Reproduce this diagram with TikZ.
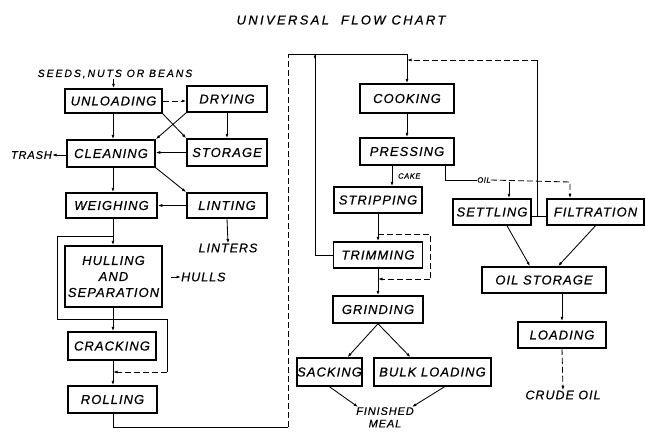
\documentclass[tikz,border=0pt]{standalone}
\usepackage{fontspec}
\setmainfont{Liberation Sans}
\newfontfamily\hand[LetterSpace=8,FakeBold=0.6]{Liberation Sans}
\newfontfamily\handwide[LetterSpace=18,FakeBold=0.6]{Liberation Sans}
\usetikzlibrary{arrows.meta}
\begin{document}
\begin{tikzpicture}[x=1pt,y=-1pt,
 box/.style={draw, line width=1.5pt, inner sep=0pt, font=\hand\itshape\fontsize{13}{16}\selectfont, align=center},
 lbl/.style={inner sep=0pt, font=\hand\itshape\fontsize{12.5}{14}\selectfont},
 tiny/.style={inner sep=0pt, font=\hand\itshape\fontsize{7.5}{8}\selectfont},
 con/.style={line width=0.85pt},
 arr/.style={con, -{Latex[length=4.5pt,width=3pt]}},
 dsh/.style={dash pattern=on 6pt off 3pt},
]
\useasboundingbox (0,0) rectangle (646,432);

% title
\node[inner sep=0pt, font=\handwide\itshape\fontsize{13}{15}\selectfont] (title) at (341,20) {UNIVERSAL\hspace{6pt} FLOW CHART};

% left column boxes
\node[box, minimum width=97pt, minimum height=24pt] (unl) at (113.5,101) {UNLOADING};
\node[box, minimum width=80pt, minimum height=26pt] (dry) at (227,99) {DRYING};
\node[box, minimum width=88pt, minimum height=27pt] (cln) at (111,153.5) {CLEANING};
\node[box, minimum width=80pt, minimum height=27pt] (stor) at (227,152.5) {STORAGE};
\node[box, minimum width=91pt, minimum height=25pt] (wgh) at (111.5,205.5) {WEIGHING};
\node[box, minimum width=80pt, minimum height=25pt] (lint) at (227,205.5) {LINTING};
\node[box, minimum width=97pt, minimum height=61pt] (hull) at (113.5,276.5) {HULLING\\AND\\SEPARATION};
\node[box, minimum width=88pt, minimum height=28pt] (crk) at (112,346) {CRACKING};
\node[box, minimum width=89pt, minimum height=27pt] (rol) at (112.5,399.5) {ROLLING};

% middle column boxes
\node[box, minimum width=94pt, minimum height=29pt] (cook) at (407,98.5) {COOKING};
\node[box, minimum width=94pt, minimum height=27pt] (press) at (407,151.5) {PRESSING};
\node[box, minimum width=88pt, minimum height=26pt] (strip) at (378,200) {STRIPPING};
\node[box, minimum width=89pt, minimum height=26pt] (trim) at (378,255) {TRIMMING};
\node[box, minimum width=90pt, minimum height=27pt] (grind) at (378,309.5) {GRINDING};
\node[box, minimum width=63pt, minimum height=28pt] (sack) at (329.5,372) {SACKING};
\node[box, minimum width=117pt, minimum height=28pt] (bulk) at (432.5,372) {BULK LOADING};

% right column boxes
\node[box, minimum width=78pt, minimum height=26pt] (settl) at (492,212) {SETTLING};
\node[box, minimum width=97pt, minimum height=26pt] (filt) at (595.5,212) {FILTRATION};
\node[box, minimum width=124pt, minimum height=26pt] (ostor) at (544,280) {OIL STORAGE};
\node[box, minimum width=88pt, minimum height=26pt] (load) at (562,335) {LOADING};

% labels
\node[lbl, font=\handwide\itshape\fontsize{10.5}{12}\selectfont] (seeds) at (115,74) {SEEDS,NUTS OR BEANS};
\node[lbl, anchor=east, font=\hand\itshape\fontsize{11}{12}\selectfont] (trash) at (52,155) {TRASH};
\node[lbl] (linters) at (228,248) {LINTERS};
\node[lbl, anchor=west] (hulls) at (181,277) {HULLS};
\node[tiny, anchor=west] (cake) at (398,176) {CAKE};
\node[tiny] (oil) at (484,180) {OIL};
\node[lbl] (crude) at (563,395) {CRUDE OIL};
\node[lbl, align=center, anchor=north, font=\hand\itshape\fontsize{11}{12.5}\selectfont] (fin) at (385,407) {FINISHED\\MEAL};

% helper coordinates
\coordinate (jA) at (113,236);
\coordinate (jB) at (113,319);
\coordinate (jC) at (113,372);
\coordinate (cL) at (57,0);
\coordinate (cR) at (167,0);
\coordinate (bl) at (288,427);
\coordinate (tl) at (288,54);
\coordinate (tj) at (315,54);
\coordinate (rj) at (537,216);
\coordinate (rt) at (537,60);
\coordinate (pk) at (445,165);
\coordinate (oS) at (509,182);
\coordinate (oF) at (570,182);
\coordinate (ck) at (392,0);
\coordinate (tA) at (378,234);
\coordinate (tB) at (378,279);
\coordinate (tR) at (430,0);
\coordinate (hs) at (171,277);
\coordinate (mx) at (113,0);

% left column connectors
\draw[arr] (unl.north |- seeds.south) -- (unl.north);
\draw[arr, dsh] (unl.east) -- (dry.west |- unl.east);
\draw[arr] (unl.south east) -- (stor.north west);
\draw[arr] (dry.south west) -- (cln.north east);
\draw[arr] (dry.south) -- (stor.north);
\draw[arr] (stor.west) -- (cln.east |- stor.west);
\draw[arr] (cln.west |- trash.east) -- (trash.east);
\draw[arr] (unl.south -| mx) -- (cln.north -| mx);
\draw[arr] (cln.south -| mx) -- (wgh.north -| mx);
\draw[arr] (cln.south east) -- (lint.north west);
\draw[arr] (lint.west) -- (wgh.east |- lint.west);
\draw[arr] (lint.south) -- (linters.north);
\draw[arr] (wgh.south -| mx) -- (hull.north -| mx);
\draw[arr] (hs) -- (hulls.west);
\draw[arr] (hull.south -| mx) -- (crk.north -| mx);
\draw[arr] (crk.south -| mx) -- (rol.north -| mx);
\draw[con] (jA) -- (jA -| cL) -- (jB -| cL) -- (jB -| cR) -- (jC -| cR);
\draw[arr, dsh] (jC -| cR) -- (jC);

% transfer to cooking
\draw[con] (rol.south -| mx) -- (bl -| mx) -- (bl);
\draw[con, dsh] (bl) -- (tl);
\draw[arr] (tl) -- (tl -| cook.north) -- (cook.north);
\draw[arr] (tj) -- ++(0,6);
\draw[con] (tj) |- (trim.west);

% middle column connectors
\draw[arr] (cook.south) -- (press.north);
\draw[arr] (press.south -| ck) -- (strip.north -| ck);
\draw[arr] (strip.south) -- (trim.north);
\draw[con, dsh] (tA) -- (tA -| tR) -- (tB -| tR);
\draw[arr, dsh] (tB -| tR) -- (tB);
\draw[arr] (trim.south) -- (grind.north);
\draw[arr] (grind.south) -- ([xshift=18pt]sack.north);
\draw[arr] (grind.south) -- ([xshift=-22pt]bulk.north);
\draw[arr] (sack.south) -- ([xshift=2pt]fin.north west);
\draw[arr] ([xshift=12pt]bulk.south) -- ([xshift=-2pt]fin.north east);

% oil side
\draw[con] (pk) |- (oil.west);
\draw[arr, dsh] (oil.east) -- (oF) -- (oF |- filt.north);
\draw[arr] (oS) -- (oS |- settl.north);
\draw[con] (settl.east |- rj) -- (filt.west |- rj);
\draw[con] (rj) -- (rt);
\draw[arr, dsh] (rt) -- (rt -| cook.north);
\draw[arr] ([xshift=15pt]settl.south) -- ([xshift=-14pt]ostor.north);
\draw[arr] (filt.south) -- ([xshift=14pt]ostor.north);
\draw[arr] (load.north |- ostor.south) -- (load.north);
\draw[arr, dsh] (load.south) -- (crude.north);
\end{tikzpicture}
\end{document}
